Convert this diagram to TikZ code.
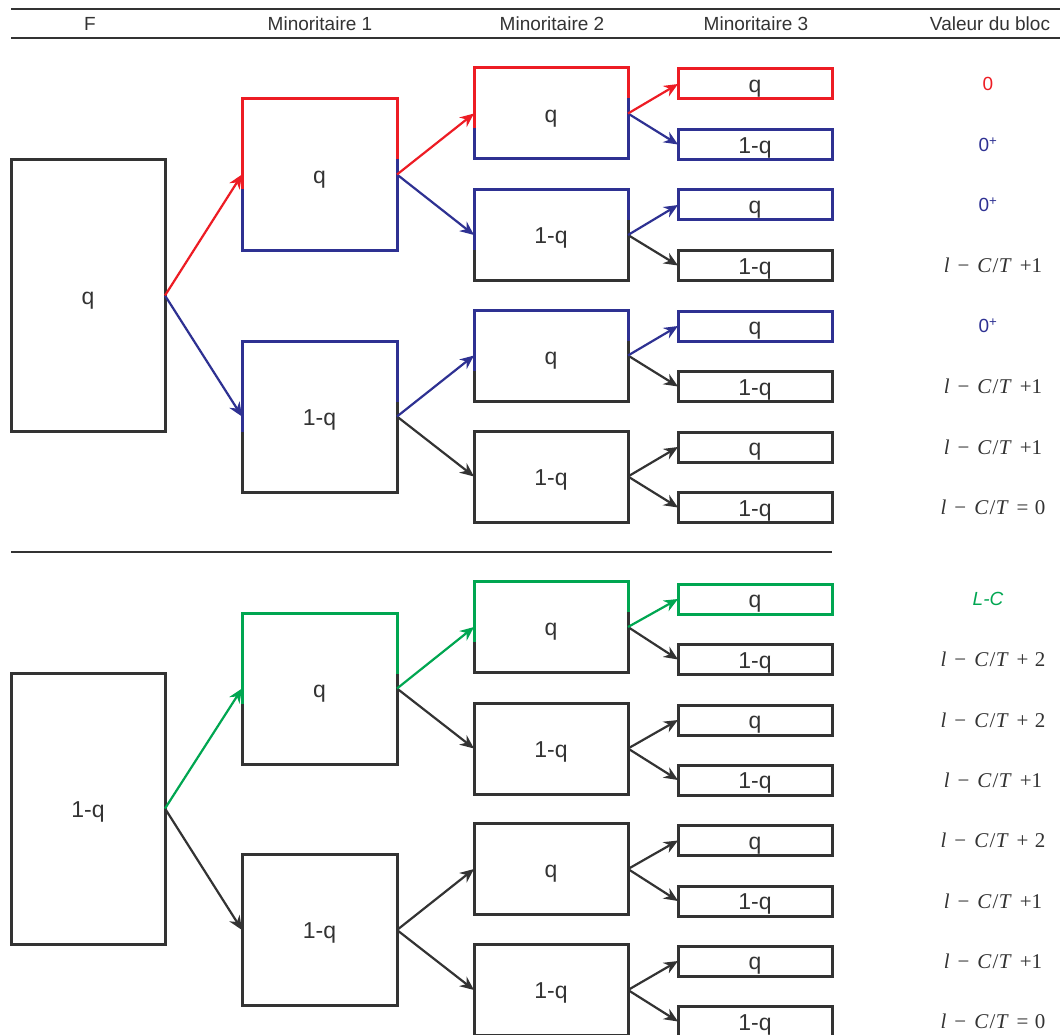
\documentclass[tikz,border=0pt]{standalone}
\usepackage{fontspec}
\setmainfont{Liberation Sans}
\newfontfamily\tmsfont{Liberation Serif}
\usetikzlibrary{arrows.meta}
\definecolor{cred}{RGB}{237,28,36}
\definecolor{cblue}{RGB}{46,49,146}
\definecolor{cgreen}{RGB}{0,166,81}
\definecolor{cdark}{RGB}{51,51,51}
\newcommand\topedge[2]{\draw[#2,line width=3pt,line join=miter] ([yshift=-15pt]#1.west) -- (#1.north west) -- (#1.north east) -- ([yshift=15pt]#1.east);}
\newcommand\lct[1]{{\tmsfont\fontsize{21}{21}\selectfont\textit{l}\hspace{0.38em}−\hspace{0.38em}\textit{C}\hspace{0.05em}/\hspace{0.02em}\textit{T}\hspace{0.38em}#1}}
\tikzset{arrowtip/.tip={Stealth[length=14pt,width=12pt,inset=4.5pt]}}
\begin{document}
\begin{tikzpicture}[x=1pt,y=-1pt,
  box/.style={draw=cdark, fill=white, line width=3pt, outer sep=0pt, inner sep=0pt,
    font=\fontsize{23}{23}\selectfont, text height=17.5pt, text depth=0pt, text=cdark},
  lvz/.style={box, minimum width=154pt, minimum height=271pt},
  lvo/.style={box, minimum width=155pt, minimum height=151pt},
  lvt/.style={box, minimum width=154pt, minimum height=91pt},
  lvr/.style={box, minimum width=154pt, minimum height=30pt},
  arr/.style={line width=2.2pt, -arrowtip},
  hdr/.style={font=\fontsize{19}{19}\selectfont, text=cdark},
  val/.style={font=\fontsize{19}{19}\selectfont},
  rule/.style={draw=cdark, line width=1.3pt}]
\useasboundingbox (0,0) rectangle (1060,1035);

% header
\coordinate (hl1) at (11,9);  \coordinate (hr1) at (1060,9);
\coordinate (hl2) at (11,38); \coordinate (hr2) at (1060,38);
\coordinate (sl) at (11,552); \coordinate (sr) at (832,552);
\draw[rule] (hl1) -- (hr1);
\draw[rule] (hl2) -- (hr2);
\draw[rule] (sl) -- (sr);
\node[hdr] (hF) at (90,23.5) {F};
\node[hdr] (hM1) at (320,23.5) {Minoritaire 1};
\node[hdr] (hM2) at (552,23.5) {Minoritaire 2};
\node[hdr] (hM3) at (756,23.5) {Minoritaire 3};
\node[hdr] (hV) at (990,23.5) {Valeur du bloc};

% ---------- top tree ----------
\node[lvz] (a) at (88,295.5) {q};
\node[lvo, draw=cblue] (a1) at (319.5,174.5) {q};
\node[lvo] (a2) at (319.5,416.5) {1-q};
\node[lvt, draw=cblue] (a11) at (551,113.5) {q};
\node[lvt] (a12) at (551,235) {1-q};
\node[lvt] (a21) at (551,355.5) {q};
\node[lvt] (a22) at (551,476.5) {1-q};
\node[lvr, draw=cred]  (a111) at (755,84) {q};
\node[lvr, draw=cblue] (a112) at (755,144.5) {1-q};
\node[lvr, draw=cblue] (a121) at (755,205) {q};
\node[lvr]             (a122) at (755,265.5) {1-q};
\node[lvr, draw=cblue] (a211) at (755,326) {q};
\node[lvr]             (a212) at (755,386.5) {1-q};
\node[lvr]             (a221) at (755,447) {q};
\node[lvr]             (a222) at (755,507.5) {1-q};
\topedge{a1}{cred}
\topedge{a2}{cblue}
\topedge{a11}{cred}
\topedge{a12}{cblue}
\topedge{a21}{cblue}

\draw[arr, cblue] (a.east) -- (a2.west);
\draw[arr, cred] (a.east) -- (a1.west);
\draw[arr, cblue] (a1.east) -- (a12.west);
\draw[arr, cred] (a1.east) -- (a11.west);
\draw[arr, cdark] (a2.east) -- (a22.west);
\draw[arr, cblue] (a2.east) -- (a21.west);
\draw[arr, cblue] (a11.east) -- (a112.west);
\draw[arr, cred] (a11.east) -- (a111.west);
\draw[arr, cdark] (a12.east) -- (a122.west);
\draw[arr, cblue] (a12.east) -- (a121.west);
\draw[arr, cdark] (a21.east) -- (a212.west);
\draw[arr, cblue] (a21.east) -- (a211.west);
\draw[arr, cdark] (a22.east) -- (a221.west);
\draw[arr, cdark] (a22.east) -- (a222.west);

\node[val, text=cred]  (va111) at (988,84) {0};
\node[val, text=cblue] (va112) at (988,144.5) {0\textsuperscript{+}};
\node[val, text=cblue] (va121) at (988,205) {0\textsuperscript{+}};
\node[val, text=cdark] (va122) at (993,265.5) {\lct{+1}};
\node[val, text=cblue] (va211) at (988,326) {0\textsuperscript{+}};
\node[val, text=cdark] (va212) at (993,386.5) {\lct{+1}};
\node[val, text=cdark] (va221) at (993,447) {\lct{+1}};
\node[val, text=cdark] (va222) at (993,507.5) {\lct{=\hspace{0.3em}0}};

% ---------- bottom tree ----------
\node[lvz] (b) at (88,808.5) {1-q};
\node[lvo] (b1) at (319.5,688.5) {q};
\node[lvo] (b2) at (319.5,930) {1-q};
\node[lvt] (b11) at (551,627) {q};
\node[lvt] (b12) at (551,748.5) {1-q};
\node[lvt] (b21) at (551,869) {q};
\node[lvt] (b22) at (551,990) {1-q};
\node[lvr, draw=cgreen] (b111) at (755,599) {q};
\node[lvr] (b112) at (755,659.5) {1-q};
\node[lvr] (b121) at (755,720) {q};
\node[lvr] (b122) at (755,780) {1-q};
\node[lvr] (b211) at (755,840.5) {q};
\node[lvr] (b212) at (755,901) {1-q};
\node[lvr] (b221) at (755,961) {q};
\node[lvr] (b222) at (755,1021.5) {1-q};
\topedge{b1}{cgreen}
\topedge{b11}{cgreen}

\draw[arr, cdark] (b.east) -- (b2.west);
\draw[arr, cgreen] (b.east) -- (b1.west);
\draw[arr, cdark] (b1.east) -- (b12.west);
\draw[arr, cgreen] (b1.east) -- (b11.west);
\draw[arr, cdark] (b2.east) -- (b21.west);
\draw[arr, cdark] (b2.east) -- (b22.west);
\draw[arr, cdark] (b11.east) -- (b112.west);
\draw[arr, cgreen] (b11.east) -- (b111.west);
\draw[arr, cdark] (b12.east) -- (b121.west);
\draw[arr, cdark] (b12.east) -- (b122.west);
\draw[arr, cdark] (b21.east) -- (b211.west);
\draw[arr, cdark] (b21.east) -- (b212.west);
\draw[arr, cdark] (b22.east) -- (b221.west);
\draw[arr, cdark] (b22.east) -- (b222.west);

\node[val, text=cgreen, font=\fontsize{19}{19}\selectfont\itshape] (vb111) at (988,599) {L-C};
\node[val, text=cdark] (vb112) at (993,659.5) {\lct{+\hspace{0.3em}2}};
\node[val, text=cdark] (vb121) at (993,720) {\lct{+\hspace{0.3em}2}};
\node[val, text=cdark] (vb122) at (993,780) {\lct{+1}};
\node[val, text=cdark] (vb211) at (993,840.5) {\lct{+\hspace{0.3em}2}};
\node[val, text=cdark] (vb212) at (993,901) {\lct{+1}};
\node[val, text=cdark] (vb221) at (993,961) {\lct{+1}};
\node[val, text=cdark] (vb222) at (993,1021.5) {\lct{=\hspace{0.3em}0}};
\end{tikzpicture}
\end{document}
